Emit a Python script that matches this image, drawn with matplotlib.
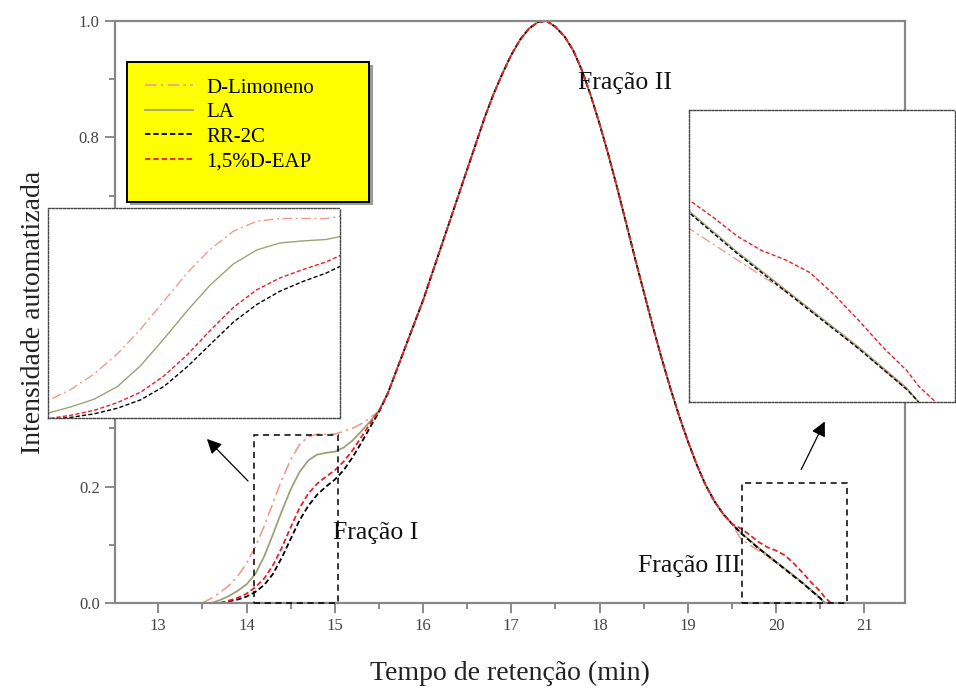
import numpy as np
import matplotlib
matplotlib.use('Agg')
import matplotlib.pyplot as plt
from matplotlib.patches import Rectangle
from matplotlib.ticker import MultipleLocator

plt.rcParams['font.family'] = ['Liberation Serif', 'DejaVu Serif']

nan = np.nan
W, H = 956, 688

# ---------------- data ----------------
t_left = [13.5, 13.6, 13.7, 13.8, 13.9, 14.0, 14.1, 14.2, 14.3, 14.4, 14.5,
          14.6, 14.7, 14.8, 14.9, 15.0, 15.1, 15.2, 15.3, 15.4, 15.5]
limoneno_left = [0.0, 0.008, 0.018, 0.03, 0.046, 0.068, 0.097, 0.132, 0.172, 0.212, 0.246,
                 0.272, 0.286, 0.29, 0.29, 0.29, 0.295, 0.30, 0.308, 0.318, 0.33]
la_left = [nan, 0.0, 0.005, 0.012, 0.021, 0.032, 0.05, 0.08, 0.118, 0.158, 0.195,
           0.225, 0.245, 0.255, 0.258, 0.26, 0.267, 0.279, 0.295, 0.312, 0.33]
rr2c_left = [nan, nan, 0.0, 0.003, 0.006, 0.011, 0.019, 0.031, 0.05, 0.078, 0.11,
             0.142, 0.167, 0.186, 0.2, 0.212, 0.228, 0.25, 0.275, 0.302, 0.328]
deap_left = [nan, nan, 0.0, 0.004, 0.009, 0.016, 0.027, 0.042, 0.065, 0.095, 0.13,
             0.163, 0.188, 0.205, 0.217, 0.228, 0.243, 0.262, 0.285, 0.308, 0.33]

t_mid = [15.6, 15.7, 15.8, 15.9, 16.0, 16.1, 16.2, 16.3, 16.4, 16.5,
         16.6, 16.7, 16.8, 16.9, 17.0, 17.1, 17.2, 17.3, 17.4, 17.5,
         17.6, 17.7, 17.8, 17.9, 18.0, 18.1, 18.2, 18.3, 18.4, 18.5,
         18.6, 18.7, 18.8, 18.9, 19.0, 19.1, 19.2, 19.3, 19.4, 19.5]
peak_mid = [0.36, 0.40, 0.44, 0.48, 0.52, 0.565, 0.61, 0.655, 0.70, 0.745,
            0.79, 0.835, 0.875, 0.91, 0.942, 0.968, 0.987, 0.998, 1.0, 0.99,
            0.974, 0.95, 0.915, 0.872, 0.823, 0.77, 0.713, 0.653, 0.593, 0.535,
            0.477, 0.422, 0.37, 0.322, 0.278, 0.238, 0.203, 0.175, 0.153, 0.136]

t_right = [19.6, 19.7, 19.8, 19.9, 20.0, 20.1, 20.2, 20.3, 20.4, 20.5, 20.55, 20.62]
limoneno_right = [0.11, 0.10, 0.09, 0.08, 0.07, 0.058, 0.046, 0.034, 0.021, 0.008, 0.0, nan]
la_right = [0.121, 0.108, 0.095, 0.083, 0.071, 0.059, 0.047, 0.035, 0.022, 0.009, 0.0, nan]
rr2c_right = [0.12, 0.107, 0.094, 0.082, 0.07, 0.058, 0.046, 0.034, 0.021, 0.008, 0.0, nan]
deap_right = [0.128, 0.117, 0.105, 0.096, 0.09, 0.082, 0.068, 0.052, 0.035, 0.02, 0.01, 0.0]

labels = ['D-Limoneno', 'LA', 'RR-2C', '1,5%D-EAP']

t_all = np.array(t_left + t_mid + t_right)
series = {
    'D-Limoneno': np.array(limoneno_left + peak_mid + limoneno_right),
    'LA': np.array(la_left + peak_mid + la_right),
    'RR-2C': np.array(rr2c_left + peak_mid + rr2c_right),
    '1,5%D-EAP': np.array(deap_left + peak_mid + deap_right),
}
styles = {
    'D-Limoneno': dict(color='#f29c8a', ls=(0, (7, 2.5, 1.5, 2.5)), lw=1.2),
    'LA': dict(color='#9ea277', ls='-', lw=1.3),
    'RR-2C': dict(color='black', ls=(0, (3, 1.6)), lw=1.3),
    '1,5%D-EAP': dict(color='#e8202a', ls=(0, (3, 1.6)), lw=1.3),
}

# ---------------- figure ----------------
fig = plt.figure(figsize=(W / 100, H / 100), dpi=100)
ax = fig.add_axes([115 / W, 85 / H, 790 / W, 582 / H])

handles = []
for name in labels:
    ln, = ax.plot(t_all, series[name], label=name, **styles[name])
    handles.append(ln)

ax.set_xlim(12.51, 21.46)
ax.set_ylim(0, 1.0)
ax.xaxis.set_major_locator(MultipleLocator(1))
ax.xaxis.set_minor_locator(MultipleLocator(0.5))
ax.yaxis.set_major_locator(MultipleLocator(0.2))
ax.yaxis.set_minor_locator(MultipleLocator(0.1))
ax.yaxis.set_major_formatter(matplotlib.ticker.FormatStrFormatter('%.1f'))
ax.tick_params(which='major', direction='out', length=7, width=1.2, color='#777777',
               labelsize=12, labelcolor='#444444', pad=4)
ax.tick_params(which='minor', direction='out', length=4, width=1.2, color='#777777')
for s in ax.spines.values():
    s.set_color('#888888')
    s.set_linewidth(1.6)

ax.set_xlabel('Tempo de retenção (min)', fontsize=20, color='#222222', labelpad=19)
ax.set_ylabel('Intensidade automatizada', fontsize=20, color='#222222')
ax.yaxis.set_label_coords((46 - 115) / 790, 0.5)

# dashed zoom boxes
ax.add_patch(Rectangle((14.08, 0.0), 0.96, 0.288, fill=False, ec='black',
                       ls=(0, (4, 3)), lw=1.1, clip_on=False, zorder=5))
ax.add_patch(Rectangle((19.61, 0.0), 1.19, 0.206, fill=False, ec='black',
                       ls=(0, (4, 3)), lw=1.1, clip_on=False, zorder=5))

# annotations
ax.text(14.98, 0.12, 'Fração I', fontsize=18.5, ha='left', va='center', color='#111111')
ax.text(17.76, 0.894, 'Fração II', fontsize=18.5, ha='left', va='center', color='#111111')
ax.text(18.44, 0.063, 'Fração III', fontsize=18.5, ha='left', va='center', color='#111111')

# arrows
ax.annotate('', xy=(205, H - 437), xytext=(250, H - 483), xycoords='figure pixels',
            textcoords='figure pixels',
            arrowprops=dict(arrowstyle='-|>', mutation_scale=22, lw=0.9, color='black'))
ax.annotate('', xy=(826, H - 419), xytext=(800, H - 472), xycoords='figure pixels',
            textcoords='figure pixels',
            arrowprops=dict(arrowstyle='-|>', mutation_scale=22, lw=0.9, color='black'))

# legend box (yellow with shadow) + legend entries
shadow = Rectangle((130 / W, 1 - 205 / H), 243 / W, 140 / H, transform=fig.transFigure,
                   fc='#9a9a9a', ec='none', zorder=3)
box = Rectangle((127 / W, 1 - 202 / H), 242 / W, 140 / H, transform=fig.transFigure,
                fc='#ffff00', ec='black', lw=1.4, zorder=4)
fig.patches.extend([shadow, box])
leg = fig.legend(handles, labels, loc='upper left', bbox_to_anchor=(145 / W, 1 - 78 / H),
                 bbox_transform=fig.transFigure, frameon=False, fontsize=15,
                 handlelength=2.3, handletextpad=0.65, labelspacing=0.24,
                 borderpad=0.0, borderaxespad=0.0)
leg.set_zorder(6)

# insets
def make_inset(rect, xlim, ylim):
    ia = fig.add_axes(rect)
    ia.set_zorder(8)
    ia.set_facecolor('white')
    for name in labels:
        st = dict(styles[name])
        st['lw'] = 1.0
        ia.plot(t_all, series[name], **st)
    ia.set_xlim(*xlim)
    ia.set_ylim(*ylim)
    ia.set_xticks([])
    ia.set_yticks([])
    for s in ia.spines.values():
        s.set_linestyle((0, (1.5, 1.2)))
        s.set_color('#444444')
        s.set_linewidth(1.0)
    return ia

make_inset([48 / W, (H - 418) / H, 292 / W, 210 / H], (13.8, 15.06), (0.005, 0.305))
make_inset([689 / W, (H - 402) / H, 266 / W, 292 / H], (19.6, 20.7), (0.0, 0.185))

fig.savefig('out.png', dpi=100)
